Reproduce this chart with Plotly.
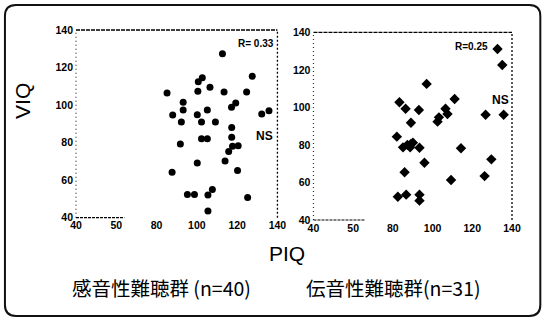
import plotly.graph_objects as go

# ---------------- data ----------------
sn_piq = [112.7, 102.7, 100.7, 127.5, 85.2, 100.5, 106.5, 113.5, 124.7, 93.2,
          93.2, 88.0, 119.3, 117.2, 105.2, 100.2, 132.2, 135.8, 92.3, 102.3,
          109.2, 117.3, 117.3, 102.3, 105.2, 91.8, 117.7, 120.5, 115.8, 100.2,
          114.0, 87.7, 120.2, 95.3, 98.8, 105.5, 107.7, 125.2, 105.5]
sn_viq = [127.3, 114.5, 112.4, 115.4, 106.5, 107.4, 109.5, 107.0, 107.0, 101.5,
          97.4, 94.7, 101.1, 98.8, 97.4, 94.9, 95.2, 97.0, 91.0, 91.0,
          91.0, 88.1, 82.9, 82.1, 82.1, 79.2, 78.1, 78.3, 75.3, 69.2,
          70.2, 64.2, 65.1, 52.3, 52.3, 52.1, 55.0, 50.7, 43.6]

cd_piq = [132.7, 135.1, 97.0, 111.1, 83.3, 86.4, 93.1, 106.5, 107.5, 103.2,
          102.5, 126.7, 135.8, 89.1, 82.0, 85.1, 87.3, 89.1, 90.1, 88.7,
          93.4, 114.3, 129.6, 95.9, 85.9, 109.3, 126.2, 82.5, 86.7, 93.4, 93.4]
cd_viq = [131.1, 122.6, 112.5, 104.5, 102.7, 99.3, 98.6, 99.3, 96.5, 94.7,
          92.4, 96.1, 96.1, 91.8, 84.4, 78.7, 80.0, 80.5, 81.2, 78.7,
          78.5, 78.2, 72.3, 70.5, 65.4, 61.3, 63.4, 52.4, 53.5, 53.5, 50.3]

tick_vals = [40, 60, 80, 100, 120, 140]
x_tick_text = ["40", "50", "80", "100", "120", "140"]
y_tick_text = ["40", "60", "80", "100", "120", "140"]

panel_titles = ["感音性難聴群 (n=40)", "伝音性難聴群(n=31)"]
r_labels = ["R= 0.33", "R=0.25"]
sig_labels = ["NS", "NS"]

# ---------------- layout helpers (pixel -> paper) ----------------
W, H = 545, 321
ML, MR, MT, MB = 76, 33.3, 30, 101
PW = W - ML - MR
PH = H - MT - MB


def px(x):
    return (x - ML) / PW


def py(y):
    return (H - MB - y) / PH


fig = go.Figure()
fig.add_trace(go.Scatter(x=sn_piq, y=sn_viq, mode="markers", xaxis="x", yaxis="y",
                         marker=dict(symbol="circle", size=7, color="black"),
                         showlegend=False, hoverinfo="x+y"))
fig.add_trace(go.Scatter(x=cd_piq, y=cd_viq, mode="markers", xaxis="x2", yaxis="y2",
                         marker=dict(symbol="diamond", size=8, color="black"),
                         showlegend=False, hoverinfo="x+y"))

tickfont = dict(family="Liberation Sans", size=10.5, color="black", weight="bold")
axis_common = dict(range=[40, 140], showgrid=False, zeroline=False, showline=False,
                   ticks="", tickfont=tickfont, tickvals=tick_vals)

fig.update_layout(
    width=W, height=H,
    margin=dict(l=ML, r=MR, t=MT, b=MB),
    paper_bgcolor="white", plot_bgcolor="white",
    xaxis=dict(domain=[0, px(277.3)], anchor="y", ticktext=x_tick_text, **axis_common),
    yaxis=dict(domain=[py(217.7), 1], anchor="x", ticktext=y_tick_text,
               ticklabelstandoff=2, **axis_common),
    xaxis2=dict(domain=[px(313.3), 1], anchor="y2", ticktext=x_tick_text, **axis_common),
    yaxis2=dict(domain=[0, py(32.3)], anchor="x2", ticktext=y_tick_text,
                ticklabelstandoff=2, **axis_common),
)

# frame lines (scanned-look dotted / dashed)
shapes = []
for xr, yr, bottom_end in [("x domain", "y domain", 0.24), ("x2 domain", "y2 domain", 0.26)]:
    shapes.append(dict(type="line", xref=xr, yref=yr, x0=0, x1=1, y0=1, y1=1,
                       line=dict(color="black", width=1.3, dash="4px,1px")))
    shapes.append(dict(type="line", xref=xr, yref=yr, x0=0, x1=0, y0=0, y1=1,
                       line=dict(color="#333", width=1.2, dash="1px,3px")))
    shapes.append(dict(type="line", xref=xr, yref=yr, x0=1, x1=1, y0=0, y1=1,
                       line=dict(color="black", width=1.3, dash="2px,2px")))
    shapes.append(dict(type="line", xref=xr, yref=yr, x0=0, x1=bottom_end, y0=0, y1=0,
                       line=dict(color="black", width=1.2, dash="3px,1px")))

# rounded outer border
x0, x1, y0, y1, r = 5, 540, 5, 316, 11
pts = [
    ("M", (x0 + r, y0)), ("L", (x1 - r, y0)), ("Q", (x1, y0), (x1, y0 + r)),
    ("L", (x1, y1 - r)), ("Q", (x1, y1), (x1 - r, y1)),
    ("L", (x0 + r, y1)), ("Q", (x0, y1), (x0, y1 - r)),
    ("L", (x0, y0 + r)), ("Q", (x0, y0), (x0 + r, y0)),
]
path = ""
for item in pts:
    cmd = item[0]
    coords = " ".join(f"{px(a):.5f},{py(b):.5f}" for a, b in item[1:])
    path += f"{cmd} {coords} "
path += "Z"
shapes.append(dict(type="path", xref="paper", yref="paper", path=path,
                   line=dict(color="#111", width=2), fillcolor="rgba(0,0,0,0)"))
fig.update_layout(shapes=shapes)

ann = []
base = dict(xref="paper", yref="paper", showarrow=False, xanchor="center", yanchor="middle")
ann.append(dict(text="VIQ", x=px(22), y=py(101), textangle=-90,
                font=dict(family="Liberation Sans", size=21, color="black"), **base))
ann.append(dict(text="PIQ", x=px(287), y=py(253),
                font=dict(family="Liberation Sans", size=21, color="black"), **base))
ann.append(dict(text=panel_titles[0], x=px(161), y=py(287),
                font=dict(family="Noto Sans CJK JP", size=19.5, color="black"), **base))
ann.append(dict(text=panel_titles[1], x=px(393), y=py(287),
                font=dict(family="Noto Sans CJK JP", size=19.5, color="black"), **base))
small = dict(family="Liberation Sans", size=10, color="black", weight="bold")
ann.append(dict(text=r_labels[0], x=px(256), y=py(43), font=small, **base))
ann.append(dict(text=r_labels[1], x=px(471), y=py(46), font=small, **base))
ns = dict(family="Liberation Sans", size=12, color="black", weight="bold")
ann.append(dict(text=sig_labels[0], x=px(264), y=py(136), font=ns, **base))
ann.append(dict(text=sig_labels[1], x=px(500), y=py(100), font=ns, **base))
fig.update_layout(annotations=ann)

fig.write_html("out.html", config={"displayModeBar": False},
               post_script="document.body.style.margin='0';document.body.style.overflow='hidden';")
